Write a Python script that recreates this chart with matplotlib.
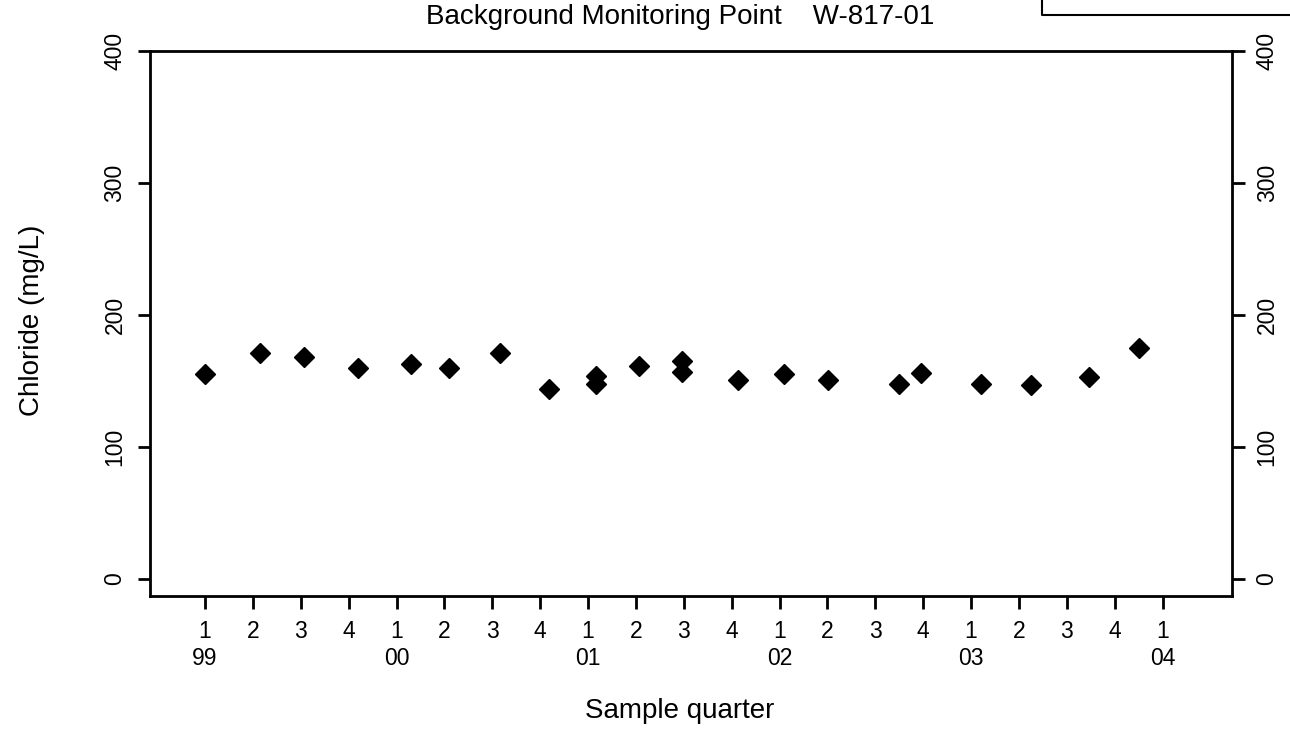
import matplotlib
matplotlib.use("Agg")
import matplotlib.pyplot as plt
from matplotlib.lines import Line2D

plt.rcParams['font.family'] = ['Liberation Sans', 'DejaVu Sans']

# Data (x in quarters since 1999 Q1, chloride mg/L)
quarter_pos = [0.0, 1.15, 2.07, 3.2, 4.3, 5.1, 6.17, 7.19, 8.17, 8.17, 9.07,
               9.97, 9.97, 11.14, 12.1, 13.02, 14.5, 14.96, 16.2, 17.26, 18.47, 19.5]
chloride = [155, 171, 168, 160, 163, 160, 171, 144, 154, 148, 161,
            165, 157, 151, 155, 151, 148, 156, 148, 147, 153, 175]

tick_quarters = list(range(21))
quarter_labels = ['1', '2', '3', '4'] * 5 + ['1']
year_labels = {0: '99', 4: '00', 8: '01', 12: '02', 16: '03', 20: '04'}
y_ticks = [0, 100, 200, 300, 400]

title = "Background Monitoring Point    W-817-01"

fig = plt.figure(figsize=(12.9, 7.38), dpi=100)
ax = fig.add_axes([150/1290, 1 - 596/738, (1232 - 150)/1290, (596 - 51)/738])

ax.plot(quarter_pos, chloride, linestyle='none', marker='D', markersize=10,
        color='black')

ax.set_xlim(-1.15, 21.45)
ax.set_ylim(-13, 400)

labels = []
for i, q in zip(tick_quarters, quarter_labels):
    if i in year_labels:
        labels.append(q + '\n' + year_labels[i])
    else:
        labels.append(q)
ax.set_xticks(tick_quarters)
ax.set_xticklabels(labels, fontsize=16.5, linespacing=1.25, va='top')
ax.set_yticks(y_ticks)
ax.set_yticklabels([str(v) for v in y_ticks], fontsize=16.5, va='center')
ax.tick_params(axis='both', direction='out', length=9, width=2, pad=8)
ax.tick_params(axis='y', right=True, labelright=True)
for t in ax.yaxis.get_major_ticks():
    t.label1.set_rotation(90)
    t.label2.set_rotation(90)
    t.label2.set_fontsize(16.5)
    t.label2.set_va('center')
for s in ax.spines.values():
    s.set_linewidth(2)

ax.set_ylabel('Chloride (mg/L)', fontsize=20)
ax.yaxis.set_label_coords((45 - 150) / 1082, (596 - 320) / 545)
ax.set_xlabel('Sample quarter', fontsize=20)
ax.xaxis.set_label_coords((680 - 150) / 1082, (596 - 698) / 545)
fig.text(680/1290, 1 - 17/738, title, fontsize=20, ha='center', va='center')

# partial box in top-right corner
fig.add_artist(Line2D([1042/1290, 1042/1290, 1.0], [1.0, 1 - 15/738, 1 - 15/738],
                      transform=fig.transFigure, color='black', linewidth=1.5))

fig.savefig('out.png', dpi=100)
